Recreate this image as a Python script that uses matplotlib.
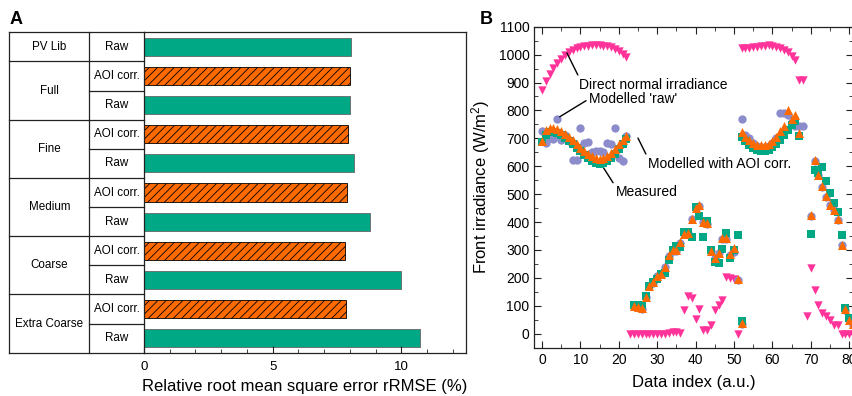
import numpy as np
import matplotlib.pyplot as plt
from matplotlib.ticker import MultipleLocator

plt.rcParams['font.family'] = ['Liberation Sans', 'DejaVu Sans']
plt.rcParams['mathtext.default'] = 'regular'
plt.rcParams['hatch.linewidth'] = 0.6

# ---------------- panel A data ----------------
groups = ['PV Lib', 'Full', 'Fine', 'Medium', 'Coarse', 'Extra Coarse']
rmse_raw = [8.04, 7.99, 8.16, 8.77, 9.99, 10.71]
rmse_aoi = [None, 7.99, 7.91, 7.89, 7.81, 7.86]

# ---------------- panel B data ----------------
# each series is split in four segments (clear day / cloudy day, twice)
seg_start = {'clear1': 0, 'cloudy1': 23, 'clear2': 52, 'cloudy2': 69}

dni_clear1 = [872, 905, 930, 952, 970, 985, 998, 1008, 1016, 1022, 1027, 1030, 1032,
              1033, 1033, 1033, 1032, 1030, 1026, 1020, 1012, 1002, 990]
dni_cloudy1 = [0, 0, 0, 0, 0, 0, 0, 0, 0, 0, 4, 5, 6, 3,
               86, 134, 128, 53, 88, 14, 12, 30, 86, 104, 122, 203, 200, 196, 0]
dni_clear2 = [1022, 1022, 1024, 1026, 1028, 1030, 1032, 1033, 1031, 1027, 1022, 1016,
              1008, 996, 982, 910, 908]
dni_cloudy2 = [65, 235, 155, 104, 75, 62, 48, 33, 33, 0, 0, 0, 0]

raw_clear1 = [728, 682, 700, 698, 770, 693, 712, 690, 624, 624, 737, 683, 686, 650,
              655, 655, 650, 683, 680, 737, 630, 618, 710]
raw_cloudy1 = [98, 95, 90, 131, 170, 183, 206, 213, 238, 280, 298, 298, 326, 356, 360,
               410, 450, 458, 400, 393, 296, 270, 288, 341, 338, 283, 292, 194, 36]
raw_clear2 = [770, 712, 700, 682, 672, 668, 668, 672, 685, 700, 790, 790, 785, 760,
              745, 745, 745]
raw_cloudy2 = [422, 620, 568, 526, 490, 460, 442, 409, 317, 86, 48, 33]

meas_clear1 = [688, 712, 722, 722, 718, 712, 703, 692, 680, 667, 653, 640, 628, 618,
               610, 607, 610, 618, 630, 645, 662, 680, 698]
meas_cloudy1 = [104, 100, 104, 136, 170, 185, 196, 213, 218, 265, 300, 315, 312, 365,
                365, 345, 455, 422, 348, 405, 300, 258, 255, 302, 362, 270, 300, 355, 45]
meas_clear2 = [705, 690, 677, 665, 658, 655, 655, 660, 668, 680, 695, 712, 730, 748,
               762, 707]
meas_cloudy2 = [358, 586, 575, 598, 548, 504, 468, 435, 352, 92, 56, 45]

aoi_clear1 = [690, 730, 738, 737, 732, 725, 716, 705, 693, 680, 667, 655, 643, 635,
              628, 626, 628, 635, 647, 662, 678, 693, 708]
aoi_cloudy1 = [100, 97, 92, 133, 172, 185, 208, 215, 240, 282, 300, 300, 328, 358, 362,
               412, 452, 460, 402, 395, 298, 272, 290, 343, 342, 285, 308, 196, 38]
aoi_clear2 = [722, 706, 693, 683, 677, 675, 676, 680, 690, 705, 725, 745, 800, 770,
              782, 720]
aoi_cloudy2 = [424, 622, 570, 528, 492, 462, 444, 411, 319, 88, 50, 35]

GREEN = '#00a886'
ORANGE = '#ff6a00'
PINK = '#ff3399'
PURPLE = '#8c8ccc'
LINE = '#222222'


def segments(clear1, cloudy1, clear2, cloudy2, cloudy_offset=0):
    # glue the four pieces together with their data index
    xs, ys = [], []
    for key, vals in (('clear1', clear1), ('cloudy1', cloudy1),
                      ('clear2', clear2), ('cloudy2', cloudy2)):
        start = seg_start[key]
        if key.startswith('cloudy'):
            start += cloudy_offset
        xs.extend(range(start, start + len(vals)))
        ys.extend(vals)
    return np.array(xs), np.array(ys)


fig = plt.figure(figsize=(8.52, 3.96), dpi=100)
axA = fig.add_axes([0.1690, 0.1093, 0.3776, 0.8091])
axB = fig.add_axes([0.6271, 0.1220, 0.3741, 0.8106])

# ================= panel A =================
rows = []
for g, r, a in zip(groups, rmse_raw, rmse_aoi):
    if a is not None:
        rows.append((g, 'AOI corr.', a))
    rows.append((g, 'Raw', r))

for y, (g, kind, v) in enumerate(rows):
    if kind == 'Raw':
        axA.barh(y, v, height=0.62, color=GREEN, edgecolor='#666666', linewidth=0.6)
    else:
        axA.barh(y, v, height=0.62, color=ORANGE, edgecolor='black', linewidth=0.6,
                 hatch='////')

n = len(rows)
axA.set_ylim(n - 0.5, -0.5)
axA.set_xlim(0, 12.5)
axA.set_yticks([])
axA.set_xticks([0, 5, 10])
axA.xaxis.set_minor_locator(MultipleLocator(1))
axA.tick_params(axis='x', which='both', direction='in', labelsize=9.5, pad=6,
                color=LINE)
axA.tick_params(axis='x', which='major', length=5)
axA.tick_params(axis='x', which='minor', length=3)
for s in axA.spines.values():
    s.set_color(LINE)
    s.set_linewidth(0.9)
axA.set_xlabel('Relative root mean square error rRMSE (%)', fontsize=12, labelpad=4)

# table on the left of the bars
tr = axA.get_yaxis_transform()
x_out, x_mid = -0.4187, -0.1700
kw = dict(transform=tr, clip_on=False, color=LINE, lw=0.9)
axA.plot([x_out, 0], [-0.5, -0.5], **kw)
axA.plot([x_out, 0], [n - 0.5, n - 0.5], **kw)
axA.plot([x_out, x_out], [-0.5, n - 0.5], **kw)
axA.plot([x_mid, x_mid], [-0.5, n - 0.5], **kw)
for i in range(n - 1):
    axA.plot([x_mid, 0], [i + 0.5, i + 0.5], **kw)
    if rows[i][0] != rows[i + 1][0]:
        axA.plot([x_out, x_mid], [i + 0.5, i + 0.5], **kw)
for i, (g, kind, v) in enumerate(rows):
    axA.text((x_mid + 0) / 2, i, kind, transform=tr, ha='center', va='center',
             fontsize=8.4)
for g in groups:
    idx = [i for i, r in enumerate(rows) if r[0] == g]
    axA.text((x_out + x_mid) / 2, np.mean(idx), g, transform=tr, ha='center',
             va='center', fontsize=8.4)

# ================= panel B =================
xd, yd = segments(dni_clear1, dni_cloudy1, dni_clear2, dni_cloudy2)
xr, yr = segments(raw_clear1, raw_cloudy1, raw_clear2, raw_cloudy2, 1)
xm, ym = segments(meas_clear1, meas_cloudy1, meas_clear2, meas_cloudy2, 1)
xa, ya = segments(aoi_clear1, aoi_cloudy1, aoi_clear2, aoi_cloudy2, 1)

axB.scatter(xd, yd, marker='v', s=36, color=PINK, linewidths=0, zorder=3)
axB.scatter(xr, yr, marker='o', s=36, color=PURPLE, linewidths=0, zorder=3)
axB.scatter(xm, ym, marker='s', s=28, color=GREEN, linewidths=0, zorder=4)
axB.scatter(xa, ya, marker='^', s=42, color=ORANGE, linewidths=0, zorder=5)

axB.set_xlim(-2, 81)
axB.set_ylim(-50, 1100)
axB.set_xticks(np.arange(0, 81, 10))
axB.set_yticks(np.arange(0, 1101, 100))
axB.xaxis.set_minor_locator(MultipleLocator(5))
axB.yaxis.set_minor_locator(MultipleLocator(50))
axB.tick_params(which='both', direction='in', top=True, right=True, labelsize=10,
                color=LINE)
axB.tick_params(which='major', length=5)
axB.tick_params(which='minor', length=3)
for s in axB.spines.values():
    s.set_color(LINE)
    s.set_linewidth(0.9)
axB.set_xlabel('Data index (a.u.)', fontsize=12, labelpad=6)
axB.set_ylabel('Front irradiance (W/m$^2$)', fontsize=12, labelpad=5)

arrow = dict(arrowstyle='-', color='black', lw=1, shrinkA=0, shrinkB=0)
axB.annotate('Direct normal irradiance', xy=(6.5, 1006), xytext=(9.7, 892),
             fontsize=10, ha='left', va='center',
             arrowprops=dict(arrow, relpos=(0, 1)))
axB.annotate("Modelled 'raw'", xy=(4.6, 777), xytext=(12.2, 841),
             fontsize=10, ha='left', va='center',
             arrowprops=dict(arrow, relpos=(0, 0.5)))
axB.annotate('Modelled with AOI corr.', xy=(25.0, 701), xytext=(27.6, 609),
             fontsize=10, ha='left', va='center',
             arrowprops=dict(arrow, relpos=(0, 0.9)))
axB.annotate('Measured', xy=(15.5, 606), xytext=(19.2, 506),
             fontsize=10, ha='left', va='center',
             arrowprops=dict(arrow, relpos=(0, 0.9)))

fig.text(10 / 852, 1 - 19 / 396, 'A', fontsize=13, fontweight='bold', va='center')
fig.text(480 / 852, 1 - 19 / 396, 'B', fontsize=13, fontweight='bold', va='center')

fig.savefig('out.png', dpi=100)
